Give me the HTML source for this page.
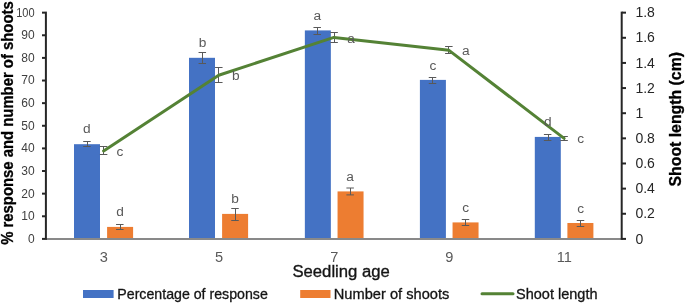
<!DOCTYPE html>
<html><head><meta charset="utf-8"><style>
html,body{margin:0;padding:0;background:#fff;width:685px;height:303px;overflow:hidden;}
svg{display:block;will-change:transform;font-family:"Liberation Sans",sans-serif;}
</style></head><body>
<svg width="685" height="303" viewBox="0 0 685 303">
<rect x="74.00" y="144.19" width="26" height="94.71" fill="#4472C4"/>
<rect x="107.10" y="226.91" width="26" height="11.99" fill="#ED7D31"/>
<rect x="189.00" y="57.81" width="26" height="181.09" fill="#4472C4"/>
<rect x="222.10" y="213.90" width="26" height="25.00" fill="#ED7D31"/>
<rect x="304.85" y="30.41" width="26" height="208.49" fill="#4472C4"/>
<rect x="337.55" y="191.41" width="26" height="47.49" fill="#ED7D31"/>
<rect x="419.90" y="79.89" width="26" height="159.01" fill="#4472C4"/>
<rect x="452.55" y="222.41" width="26" height="16.49" fill="#ED7D31"/>
<rect x="534.80" y="136.91" width="26" height="101.99" fill="#4472C4"/>
<rect x="567.40" y="222.99" width="26" height="15.91" fill="#ED7D31"/>
<line x1="46" y1="238.9" x2="621.7" y2="238.9" stroke="#898989" stroke-width="2"/>
<path d="M83.20 141.50H90.70M83.20 146.50H90.70M87.50 141.50V146.50" stroke="#595959" stroke-width="1" fill="none"/>
<path d="M198.55 52.50H206.05M198.55 63.50H206.05M202.50 52.50V63.50" stroke="#595959" stroke-width="1" fill="none"/>
<path d="M313.45 27.50H320.95M313.45 34.50H320.95M317.50 27.50V34.50" stroke="#595959" stroke-width="1" fill="none"/>
<path d="M428.75 77.50H436.25M428.75 83.50H436.25M432.50 77.50V83.50" stroke="#595959" stroke-width="1" fill="none"/>
<path d="M543.90 134.50H551.40M543.90 140.50H551.40M548.50 134.50V140.50" stroke="#595959" stroke-width="1" fill="none"/>
<path d="M116.05 224.50H123.55M116.05 229.50H123.55M120.50 224.50V229.50" stroke="#595959" stroke-width="1" fill="none"/>
<path d="M231.25 208.50H238.75M231.25 220.50H238.75M235.50 208.50V220.50" stroke="#595959" stroke-width="1" fill="none"/>
<path d="M346.40 188.00H353.90M346.40 194.90H353.90M350.50 188.00V194.90" stroke="#595959" stroke-width="1" fill="none"/>
<path d="M461.75 219.50H469.25M461.75 225.50H469.25M465.50 219.50V225.50" stroke="#595959" stroke-width="1" fill="none"/>
<path d="M576.75 220.50H584.25M576.75 226.50H584.25M580.50 220.50V226.50" stroke="#595959" stroke-width="1" fill="none"/>
<path d="M99.85 146.50H107.35M99.85 154.50H107.35M103.50 146.50V154.50" stroke="#595959" stroke-width="1" fill="none"/>
<path d="M215.05 67.50H222.55M215.05 82.50H222.55M218.50 67.50V82.50" stroke="#595959" stroke-width="1" fill="none"/>
<path d="M330.35 32.50H337.85M330.35 42.50H337.85M334.50 32.50V42.50" stroke="#595959" stroke-width="1" fill="none"/>
<path d="M445.10 46.50H452.60M445.10 53.50H452.60M448.50 46.50V53.50" stroke="#595959" stroke-width="1" fill="none"/>
<path d="M560.35 136.50H567.85M560.35 140.50H567.85M564.50 136.50V140.50" stroke="#595959" stroke-width="1" fill="none"/>
<polyline points="103.60,150.91 218.70,75.25 333.90,37.41 449.00,50.36 564.10,138.34" fill="none" stroke="#548235" stroke-width="3" stroke-linejoin="round" stroke-linecap="round"/>
<text x="86.90" y="132.90" font-family="Liberation Sans, sans-serif" font-size="13.7" fill="#595959" text-anchor="middle">d</text>
<text x="202.50" y="47.40" font-family="Liberation Sans, sans-serif" font-size="13.7" fill="#595959" text-anchor="middle">b</text>
<text x="317.30" y="19.70" font-family="Liberation Sans, sans-serif" font-size="13.7" fill="#595959" text-anchor="middle">a</text>
<text x="433.00" y="69.70" font-family="Liberation Sans, sans-serif" font-size="13.7" fill="#595959" text-anchor="middle">c</text>
<text x="547.70" y="125.60" font-family="Liberation Sans, sans-serif" font-size="13.7" fill="#595959" text-anchor="middle">d</text>
<text x="120.00" y="216.30" font-family="Liberation Sans, sans-serif" font-size="13.7" fill="#595959" text-anchor="middle">d</text>
<text x="235.00" y="203.40" font-family="Liberation Sans, sans-serif" font-size="13.7" fill="#595959" text-anchor="middle">b</text>
<text x="350.10" y="180.90" font-family="Liberation Sans, sans-serif" font-size="13.7" fill="#595959" text-anchor="middle">a</text>
<text x="465.60" y="212.00" font-family="Liberation Sans, sans-serif" font-size="13.7" fill="#595959" text-anchor="middle">c</text>
<text x="580.60" y="212.90" font-family="Liberation Sans, sans-serif" font-size="13.7" fill="#595959" text-anchor="middle">c</text>
<text x="119.90" y="155.60" font-family="Liberation Sans, sans-serif" font-size="13.7" fill="#595959" text-anchor="middle">c</text>
<text x="235.80" y="80.30" font-family="Liberation Sans, sans-serif" font-size="13.7" fill="#595959" text-anchor="middle">b</text>
<text x="351.00" y="42.70" font-family="Liberation Sans, sans-serif" font-size="13.7" fill="#595959" text-anchor="middle">a</text>
<text x="465.90" y="54.80" font-family="Liberation Sans, sans-serif" font-size="13.7" fill="#595959" text-anchor="middle">a</text>
<text x="580.60" y="143.20" font-family="Liberation Sans, sans-serif" font-size="13.7" fill="#595959" text-anchor="middle">c</text>
<line x1="45.9" y1="11.6" x2="45.9" y2="239.9" stroke="#262626" stroke-width="2"/>
<line x1="42" y1="238.90" x2="45" y2="238.90" stroke="#262626" stroke-width="2"/>
<text x="34.6" y="242.80" font-family="Liberation Sans, sans-serif" font-size="12" fill="#404040" text-anchor="end">0</text>
<line x1="42" y1="216.28" x2="45" y2="216.28" stroke="#262626" stroke-width="2"/>
<text x="34.6" y="220.18" font-family="Liberation Sans, sans-serif" font-size="12" fill="#404040" text-anchor="end">10</text>
<line x1="42" y1="193.65" x2="45" y2="193.65" stroke="#262626" stroke-width="2"/>
<text x="34.6" y="197.55" font-family="Liberation Sans, sans-serif" font-size="12" fill="#404040" text-anchor="end">20</text>
<line x1="42" y1="171.03" x2="45" y2="171.03" stroke="#262626" stroke-width="2"/>
<text x="34.6" y="174.93" font-family="Liberation Sans, sans-serif" font-size="12" fill="#404040" text-anchor="end">30</text>
<line x1="42" y1="148.40" x2="45" y2="148.40" stroke="#262626" stroke-width="2"/>
<text x="34.6" y="152.30" font-family="Liberation Sans, sans-serif" font-size="12" fill="#404040" text-anchor="end">40</text>
<line x1="42" y1="125.77" x2="45" y2="125.77" stroke="#262626" stroke-width="2"/>
<text x="34.6" y="129.67" font-family="Liberation Sans, sans-serif" font-size="12" fill="#404040" text-anchor="end">50</text>
<line x1="42" y1="103.15" x2="45" y2="103.15" stroke="#262626" stroke-width="2"/>
<text x="34.6" y="107.05" font-family="Liberation Sans, sans-serif" font-size="12" fill="#404040" text-anchor="end">60</text>
<line x1="42" y1="80.53" x2="45" y2="80.53" stroke="#262626" stroke-width="2"/>
<text x="34.6" y="84.43" font-family="Liberation Sans, sans-serif" font-size="12" fill="#404040" text-anchor="end">70</text>
<line x1="42" y1="57.90" x2="45" y2="57.90" stroke="#262626" stroke-width="2"/>
<text x="34.6" y="61.80" font-family="Liberation Sans, sans-serif" font-size="12" fill="#404040" text-anchor="end">80</text>
<line x1="42" y1="35.27" x2="45" y2="35.27" stroke="#262626" stroke-width="2"/>
<text x="34.6" y="39.17" font-family="Liberation Sans, sans-serif" font-size="12" fill="#404040" text-anchor="end">90</text>
<line x1="42" y1="12.65" x2="45" y2="12.65" stroke="#262626" stroke-width="2"/>
<text x="34.6" y="16.55" font-family="Liberation Sans, sans-serif" font-size="12" fill="#404040" text-anchor="end" textLength="18.4" lengthAdjust="spacingAndGlyphs">100</text>
<line x1="621.7" y1="11.6" x2="621.7" y2="239.9" stroke="#262626" stroke-width="2"/>
<line x1="622" y1="238.90" x2="626" y2="238.90" stroke="#262626" stroke-width="2"/>
<text x="635.4" y="243.60" font-family="Liberation Sans, sans-serif" font-size="14" fill="#262626">0</text>
<line x1="622" y1="213.76" x2="626" y2="213.76" stroke="#262626" stroke-width="2"/>
<text x="635.4" y="218.46" font-family="Liberation Sans, sans-serif" font-size="14" fill="#262626">0.2</text>
<line x1="622" y1="188.62" x2="626" y2="188.62" stroke="#262626" stroke-width="2"/>
<text x="635.4" y="193.32" font-family="Liberation Sans, sans-serif" font-size="14" fill="#262626">0.4</text>
<line x1="622" y1="163.48" x2="626" y2="163.48" stroke="#262626" stroke-width="2"/>
<text x="635.4" y="168.18" font-family="Liberation Sans, sans-serif" font-size="14" fill="#262626">0.6</text>
<line x1="622" y1="138.34" x2="626" y2="138.34" stroke="#262626" stroke-width="2"/>
<text x="635.4" y="143.04" font-family="Liberation Sans, sans-serif" font-size="14" fill="#262626">0.8</text>
<line x1="622" y1="113.21" x2="626" y2="113.21" stroke="#262626" stroke-width="2"/>
<text x="635.4" y="117.91" font-family="Liberation Sans, sans-serif" font-size="14" fill="#262626">1</text>
<line x1="622" y1="88.07" x2="626" y2="88.07" stroke="#262626" stroke-width="2"/>
<text x="635.4" y="92.77" font-family="Liberation Sans, sans-serif" font-size="14" fill="#262626">1.2</text>
<line x1="622" y1="62.93" x2="626" y2="62.93" stroke="#262626" stroke-width="2"/>
<text x="635.4" y="67.63" font-family="Liberation Sans, sans-serif" font-size="14" fill="#262626">1.4</text>
<line x1="622" y1="37.79" x2="626" y2="37.79" stroke="#262626" stroke-width="2"/>
<text x="635.4" y="42.49" font-family="Liberation Sans, sans-serif" font-size="14" fill="#262626">1.6</text>
<line x1="622" y1="12.65" x2="626" y2="12.65" stroke="#262626" stroke-width="2"/>
<text x="635.4" y="17.35" font-family="Liberation Sans, sans-serif" font-size="14" fill="#262626">1.8</text>
<text x="103.90" y="261.6" font-family="Liberation Sans, sans-serif" font-size="14.6" fill="#595959" text-anchor="middle">3</text>
<text x="219.00" y="261.6" font-family="Liberation Sans, sans-serif" font-size="14.6" fill="#595959" text-anchor="middle">5</text>
<text x="334.20" y="261.6" font-family="Liberation Sans, sans-serif" font-size="14.6" fill="#595959" text-anchor="middle">7</text>
<text x="449.30" y="261.6" font-family="Liberation Sans, sans-serif" font-size="14.6" fill="#595959" text-anchor="middle">9</text>
<text x="564.40" y="261.6" font-family="Liberation Sans, sans-serif" font-size="14.6" fill="#595959" text-anchor="middle">11</text>
<text x="292.4" y="277.3" font-family="Liberation Sans, sans-serif" font-size="17.3" fill="#141414" stroke="#141414" stroke-width="0.35" textLength="97.5" lengthAdjust="spacingAndGlyphs">Seedling age</text>
<text transform="translate(13.0,244.8) rotate(-90)" font-family="Liberation Sans, sans-serif" font-size="15.6" font-weight="bold" fill="#000" stroke="#000" stroke-width="0.3" textLength="243.5" lengthAdjust="spacingAndGlyphs">% response and number of shoots</text>
<text transform="translate(680.8,186.5) rotate(-90)" font-family="Liberation Sans, sans-serif" font-size="15.6" font-weight="bold" fill="#000" stroke="#000" stroke-width="0.3" textLength="134.5" lengthAdjust="spacingAndGlyphs">Shoot length (cm)</text>
<rect x="83" y="290" width="30.6" height="8" fill="#4472C4"/>
<text x="117.3" y="298.8" font-family="Liberation Sans, sans-serif" font-size="14.2" fill="#141414" stroke="#141414" stroke-width="0.3" textLength="150.5" lengthAdjust="spacingAndGlyphs">Percentage of response</text>
<rect x="300.2" y="290" width="30.3" height="8" fill="#ED7D31"/>
<text x="333.8" y="298.8" font-family="Liberation Sans, sans-serif" font-size="14.2" fill="#141414" stroke="#141414" stroke-width="0.3" textLength="115.5" lengthAdjust="spacingAndGlyphs">Number of shoots</text>
<line x1="482" y1="293.7" x2="513" y2="293.7" stroke="#548235" stroke-width="3" stroke-linecap="round"/>
<text x="516" y="298.8" font-family="Liberation Sans, sans-serif" font-size="14.2" fill="#141414" stroke="#141414" stroke-width="0.3" textLength="81.5" lengthAdjust="spacingAndGlyphs">Shoot length</text>
</svg>
</body></html>
